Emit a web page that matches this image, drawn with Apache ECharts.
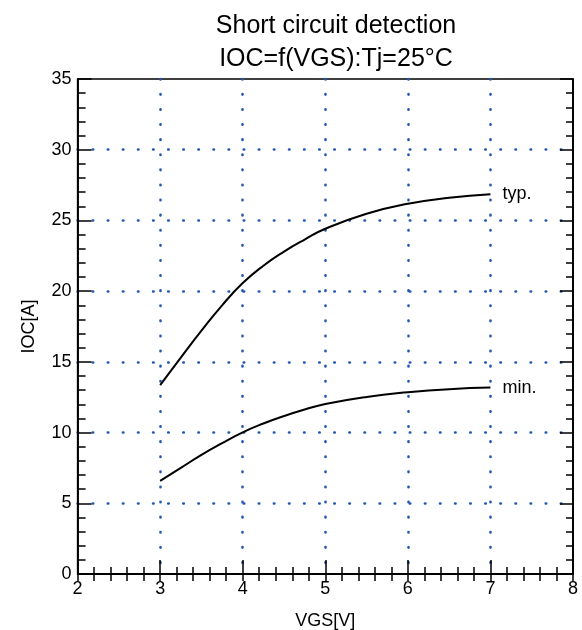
<!DOCTYPE html>
<html>
<head>
<meta charset="utf-8">
<script src="https://cdn.jsdelivr.net/npm/echarts@6/dist/echarts.min.js"></script>
<style>html,body{margin:0;padding:0;background:#fff}#c{width:582px;height:630px}</style>
</head>
<body>
<div id="c"></div>
<script>
const vgs = [3, 3.25, 3.5, 3.75, 4, 4.25, 4.5, 4.75, 5, 5.5, 6, 6.5, 7];
const iocTyp = [13.35, 15.3, 17.2, 19.0, 20.57, 21.8, 22.8, 23.65, 24.41, 25.47, 26.18, 26.6, 26.85];
const iocMin = [6.58, 7.5, 8.42, 9.25, 10.02, 10.64, 11.17, 11.63, 12.02, 12.52, 12.85, 13.07, 13.18];
const seriesNames = ['typ.', 'min.'];
const titleLines = ['Short circuit detection', 'IOC=f(VGS):Tj=25\u00B0C'];
const xName = 'VGS[V]';
const yName = 'IOC[A]';

const FONT = 'Liberation Sans, Arial, sans-serif';
const gridDot = { color: '#2457b5', width: 2.6, type: [0.5, 14.6], cap: 'round' };
const tickStyle = { color: '#000', width: 1.5 };
const gridBox = { left: 77.6, right: 9, top: 79, bottom: 56, outerBoundsMode: 'none', containLabel: false };

function plainAxis(extra) {
  return Object.assign({
    type: 'value',
    axisLine: { show: true, lineStyle: { color: '#000', width: 1.5 } },
    axisLabel: { show: false }, splitLine: { show: false }, minorTick: { show: false }
  }, extra);
}

const chart = echarts.init(document.getElementById('c'));
chart.setOption({
  animation: false,
  backgroundColor: '#fff',
  textStyle: { fontFamily: FONT },
  title: {
    text: titleLines.join('\n'),
    left: 331, top: 5, textAlign: 'center',
    textStyle: { fontSize: 25, fontWeight: 'normal', color: '#000', lineHeight: 33, fontFamily: FONT }
  },
  grid: [
    Object.assign({ show: true, borderColor: '#000', borderWidth: 1.5 }, gridBox),
    Object.assign({}, gridBox)
  ],
  xAxis: [
    plainAxis({
      gridIndex: 0, min: 2, max: 8, interval: 1, position: 'bottom',
      name: xName, nameLocation: 'middle', nameGap: 38,
      nameTextStyle: { fontSize: 18, color: '#000', fontFamily: FONT, verticalAlign: 'top' },
      axisTick: { show: true, inside: true, length: 14, lineStyle: tickStyle },
      axisLabel: { show: true, fontSize: 18, color: '#000', margin: 6, fontFamily: FONT },
      splitLine: { show: true, lineStyle: gridDot, showMinLine: false, showMaxLine: false }
    }),
    plainAxis({
      gridIndex: 0, min: 2, max: 8, interval: 1, position: 'top',
      axisTick: { show: true, inside: true, length: 7, lineStyle: tickStyle }
    }),
    plainAxis({
      gridIndex: 1, min: 2, max: 8, interval: 0.2, position: 'bottom',
      axisTick: { show: true, inside: true, length: 7, lineStyle: tickStyle }
    }),
    plainAxis({
      gridIndex: 1, min: 2, max: 8, interval: 0.2, position: 'top',
      axisTick: { show: true, inside: true, length: 7, lineStyle: tickStyle }
    })
  ],
  yAxis: [
    plainAxis({
      gridIndex: 0, min: 0, max: 35, interval: 5, position: 'left',
      name: yName, nameLocation: 'middle', nameGap: 40, nameRotate: 90,
      nameTextStyle: { fontSize: 18, color: '#000', fontFamily: FONT },
      axisTick: { show: true, inside: true, length: 14, lineStyle: tickStyle },
      axisLabel: { show: true, fontSize: 18, color: '#000', margin: 6, fontFamily: FONT },
      splitLine: { show: true, lineStyle: gridDot, showMinLine: false, showMaxLine: false }
    }),
    plainAxis({
      gridIndex: 0, min: 0, max: 35, interval: 5, position: 'right',
      axisTick: { show: true, inside: true, length: 13, lineStyle: tickStyle }
    }),
    plainAxis({
      gridIndex: 1, min: 0, max: 35, interval: 1, position: 'left',
      axisTick: { show: true, inside: true, length: 8, lineStyle: tickStyle }
    }),
    plainAxis({
      gridIndex: 1, min: 0, max: 35, interval: 1, position: 'right',
      axisTick: { show: true, inside: true, length: 7, lineStyle: tickStyle }
    })
  ],
  series: [iocTyp, iocMin].map((vals, i) => ({
    name: seriesNames[i],
    type: 'line',
    xAxisIndex: 0, yAxisIndex: 0,
    smooth: 0.5,
    showSymbol: false,
    symbol: 'none',
    data: vgs.map((x, j) => [x, vals[j]]),
    lineStyle: { color: '#000', width: 2 },
    endLabel: { show: true, formatter: '{a}', distance: 12, color: '#000', fontSize: 18, fontFamily: FONT }
  }))
});
</script>
</body>
</html>
